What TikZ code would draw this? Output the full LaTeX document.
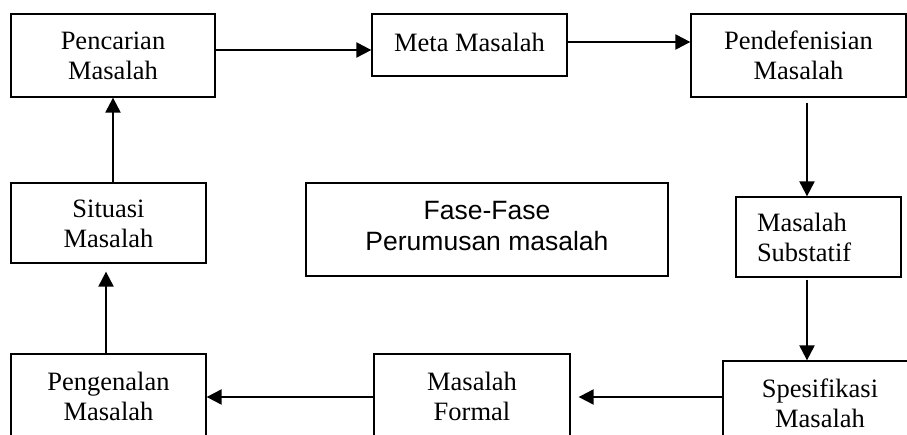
\documentclass[tikz,border=0pt]{standalone}
\usepackage{fontspec}
\setmainfont{Liberation Serif}
\newfontfamily\arialfont{Liberation Sans}
\usetikzlibrary{arrows.meta}

\tikzset{
  box/.style={draw, line width=1.3pt, rectangle, inner sep=0pt, align=center,
    font=\fontsize{26.5}{30}\selectfont, text height=49pt, text depth=0pt},
  oneline/.style={text height=19pt, text depth=5pt},
  arr/.style={line width=2.2pt, -{Triangle[length=15pt,width=15pt]}}
}

\begin{document}
\begin{tikzpicture}[x=1pt, y=-1pt]
  \useasboundingbox (0,0) rectangle (907,435);
  \clip (0,0) rectangle (907,435);

  % process boxes
  \node[box, minimum width=204, minimum height=83] (pencarian) at (113,55.5) {Pencarian\\Masalah};
  \node[box, oneline, minimum width=195, minimum height=62] (meta) at (469.5,45) {Meta Masalah};
  \node[box, minimum width=215, minimum height=83] (pendef) at (798.5,55.5) {Pendefenisian\\Masalah};
  \node[box, minimum width=165, minimum height=80, align=left, text width=123pt,
        text height=19pt, text depth=30pt] (subst) at (818.5,237) {Masalah\\Substatif};
  \node[box, minimum width=194, minimum height=83] (spes) at (820,402.5) {Spesifikasi\\Masalah};
  \node[box, minimum width=196, minimum height=83] (formal) at (472,395.5) {Masalah\\Formal};
  \node[box, minimum width=195, minimum height=83] (pengenalan) at (108.5,395.5) {Pengenalan\\Masalah};
  \node[box, minimum width=195, minimum height=80] (situasi) at (108.5,223) {Situasi\\Masalah};

  % title box in the middle
  \node[box, minimum width=362, minimum height=93, text height=45pt, text depth=2pt,
        font=\arialfont\fontsize{26.5}{31}\selectfont] (fase) at (487,229.5) {Fase-Fase\\Perumusan masalah};

  % rows and columns the connectors run along
  \coordinate (rowA) at (0,50);
  \coordinate (rowB) at (0,42);
  \coordinate (rowC) at (0,397);
  \coordinate (colR) at (807,0);
  \coordinate (colL) at (106,0);
  \coordinate (colU) at (113,0);

  % connectors
  \draw[arr] (pencarian.east |- rowA) -- (meta.west |- rowA);
  \draw[arr] (meta.east |- rowB) -- (pendef.west |- rowB);
  \draw[arr, shorten <=5pt] (pendef.south -| colR) -- (subst.north -| colR);
  \draw[arr, shorten <=2pt] (subst.south -| colR) -- (spes.north -| colR);
  \draw[arr, shorten >=8pt] (spes.west |- rowC) -- (formal.east |- rowC);
  \draw[arr] (formal.west |- rowC) -- (pengenalan.east |- rowC);
  \draw[arr, shorten >=8pt] (pengenalan.north -| colL) -- (situasi.south -| colL);
  \draw[arr] (situasi.north -| colU) -- (pencarian.south -| colU);
\end{tikzpicture}
\end{document}
